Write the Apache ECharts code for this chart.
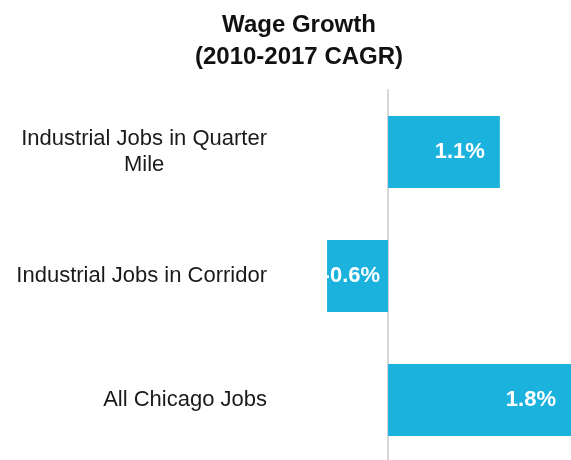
<!DOCTYPE html>
<html>
<head>
<meta charset="utf-8">
<script src="https://cdn.jsdelivr.net/npm/echarts@6/dist/echarts.min.js"></script>
<style>
    html, body { margin: 0; padding: 0; background: #fff; }
    #chart { width: 571px; height: 460px; }
</style>
</head>
<body>
<div id="chart"></div>
<script>
    // 数据
    var categories = ['Industrial Jobs in Quarter\nMile', 'Industrial Jobs in Corridor', 'All Chicago Jobs']
    var values = [1.1, -0.6, 1.8]

    var chart = echarts.init(document.getElementById('chart'))

    var barData = []
    for (var i = 0; i < values.length; i++) {
        barData.push({
            value: values[i],
            label: {
                position: 'insideRight',
                distance: values[i] < 0 ? 8 : 15
            }
        })
    }

    var option = {
        animation: false,
        title: {
            text: 'Wage Growth\n(2010-2017 CAGR)',
            left: 299,
            top: 9,
            padding: 0,
            textAlign: 'center',
            textStyle: {
                color: '#111',
                fontSize: 24,
                fontWeight: 'bold',
                fontFamily: 'Liberation Sans',
                lineHeight: 32
            }
        },
        grid: {
            left: 324,
            right: 0,
            top: 90,
            bottom: -2,
            containLabel: false,
            outerBoundsMode: 'none'
        },
        xAxis: {
            type: 'value',
            min: -0.63,
            max: 1.8,
            axisLine: { show: false },
            axisTick: { show: false },
            axisLabel: { show: false },
            splitLine: { show: false }
        },
        yAxis: {
            type: 'category',
            inverse: true,
            data: categories,
            axisTick: { show: false },
            axisLine: {
                show: true,
                onZero: true,
                lineStyle: { color: '#d6d6d6', width: 2 }
            },
            axisLabel: {
                margin: 57,
                formatter: function (val) {
                    return val.split('\n').map(function (s) {
                        return '{c|' + s + '}'
                    }).join('\n')
                },
                rich: {
                    c: {
                        align: 'center',
                        color: '#1a1a1a',
                        fontSize: 22,
                        fontFamily: 'Liberation Sans',
                        lineHeight: 26
                    }
                }
            }
        },
        series: [{
            type: 'bar',
            barWidth: 72,
            data: barData,
            itemStyle: { color: '#1cb2de' },
            label: {
                show: true,
                color: '#fff',
                fontSize: 22,
                fontWeight: 'bold',
                fontFamily: 'Liberation Sans',
                formatter: function (p) {
                    return p.value.toFixed(1) + '%'
                }
            }
        }]
    }

    chart.setOption(option)
</script>
</body>
</html>
